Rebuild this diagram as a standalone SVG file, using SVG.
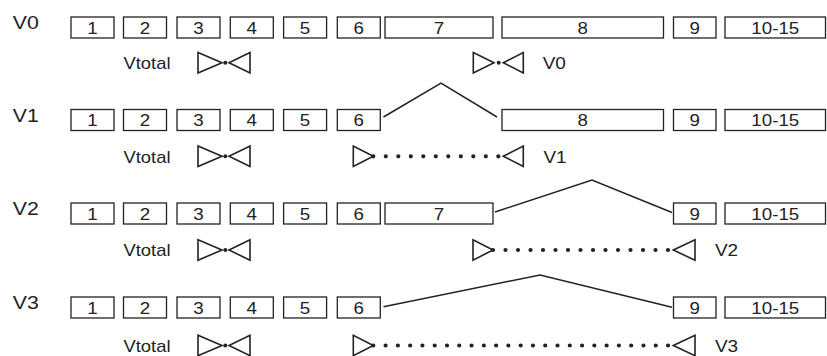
<svg xmlns="http://www.w3.org/2000/svg" width="827" height="356" viewBox="0 0 827 356">
<style>
  .bg { fill: #ffffff; }
  .box { fill: #ffffff; stroke: #222; stroke-width: 1.3; }
  text { font-family: "Liberation Sans", Arial, Helvetica, sans-serif; fill: #222; text-anchor: middle; transform-box: fill-box; transform-origin: center; transform: scaleX(1.15); }
  .num { font-size: 16.3px; }
  .row { font-size: 18.5px; }
  .lbl { font-size: 16px; }
  .tail { font-size: 16.5px; }
  .bridge { fill: none; stroke: #222; stroke-width: 1.5; stroke-linejoin: miter; }
  .tri { fill: none; stroke: #222; stroke-width: 1.6; stroke-linejoin: miter; }
  .dot { fill: #222; }
  .dots { stroke: #222; stroke-width: 4.2; stroke-linecap: round; stroke-dasharray: 0.01 12.49; fill: none; }
</style>
<rect class="bg" x="0" y="0" width="827" height="356"/>

<!-- Row V0 -->
<g id="row-v0">
  <text class="row" x="25.8" y="29.5">V0</text>
  <g id="v0-b1"><rect class="box" x="71" y="17" width="43" height="21"/><text class="num" x="92.5" y="33.6">1</text></g>
  <g id="v0-b2"><rect class="box" x="123.5" y="17" width="43" height="21"/><text class="num" x="145" y="33.6">2</text></g>
  <g id="v0-b3"><rect class="box" x="177" y="17" width="43" height="21"/><text class="num" x="198.5" y="33.6">3</text></g>
  <g id="v0-b4"><rect class="box" x="230.3" y="17" width="43" height="21"/><text class="num" x="251.8" y="33.6">4</text></g>
  <g id="v0-b5"><rect class="box" x="283.6" y="17" width="43" height="21"/><text class="num" x="305.1" y="33.6">5</text></g>
  <g id="v0-b6"><rect class="box" x="337.3" y="17" width="43" height="21"/><text class="num" x="358.8" y="33.6">6</text></g>
  <g id="v0-b7"><rect class="box" x="385" y="17" width="108" height="21"/><text class="num" x="439" y="33.6">7</text></g>
  <g id="v0-b8"><rect class="box" x="502" y="17" width="161.5" height="21"/><text class="num" x="582.8" y="33.6">8</text></g>
  <g id="v0-b9"><rect class="box" x="673.5" y="17" width="42.5" height="21"/><text class="num" x="694.8" y="33.6">9</text></g>
  <g id="v0-b10"><rect class="box" x="725" y="17" width="100.5" height="21"/><text class="num" x="775.3" y="33.6">10-15</text></g>
  <text class="lbl" x="147" y="69.3">Vtotal</text>
  <text class="tail" x="554.3" y="69.3">V0</text>
</g>

<!-- Row V1 -->
<g id="row-v1">
  <text class="row" x="25.8" y="122">V1</text>
  <g id="v1-b1"><rect class="box" x="71" y="109.5" width="43" height="21"/><text class="num" x="92.5" y="126.1">1</text></g>
  <g id="v1-b2"><rect class="box" x="123.5" y="109.5" width="43" height="21"/><text class="num" x="145" y="126.1">2</text></g>
  <g id="v1-b3"><rect class="box" x="177" y="109.5" width="43" height="21"/><text class="num" x="198.5" y="126.1">3</text></g>
  <g id="v1-b4"><rect class="box" x="230.3" y="109.5" width="43" height="21"/><text class="num" x="251.8" y="126.1">4</text></g>
  <g id="v1-b5"><rect class="box" x="283.6" y="109.5" width="43" height="21"/><text class="num" x="305.1" y="126.1">5</text></g>
  <g id="v1-b6"><rect class="box" x="337.3" y="109.5" width="43" height="21"/><text class="num" x="358.8" y="126.1">6</text></g>
  <g id="v1-b8"><rect class="box" x="502" y="109.5" width="161.5" height="21"/><text class="num" x="582.8" y="126.1">8</text></g>
  <g id="v1-b9"><rect class="box" x="673.5" y="109.5" width="42.5" height="21"/><text class="num" x="694.8" y="126.1">9</text></g>
  <g id="v1-b10"><rect class="box" x="725" y="109.5" width="100.5" height="21"/><text class="num" x="775.3" y="126.1">10-15</text></g>
  <text class="lbl" x="147" y="162.8">Vtotal</text>
  <text class="tail" x="555" y="162.8">V1</text>
</g>

<!-- Row V2 -->
<g id="row-v2">
  <text class="row" x="25.8" y="215.5">V2</text>
  <g id="v2-b1"><rect class="box" x="71" y="203" width="43" height="21"/><text class="num" x="92.5" y="219.6">1</text></g>
  <g id="v2-b2"><rect class="box" x="123.5" y="203" width="43" height="21"/><text class="num" x="145" y="219.6">2</text></g>
  <g id="v2-b3"><rect class="box" x="177" y="203" width="43" height="21"/><text class="num" x="198.5" y="219.6">3</text></g>
  <g id="v2-b4"><rect class="box" x="230.3" y="203" width="43" height="21"/><text class="num" x="251.8" y="219.6">4</text></g>
  <g id="v2-b5"><rect class="box" x="283.6" y="203" width="43" height="21"/><text class="num" x="305.1" y="219.6">5</text></g>
  <g id="v2-b6"><rect class="box" x="337.3" y="203" width="43" height="21"/><text class="num" x="358.8" y="219.6">6</text></g>
  <g id="v2-b7"><rect class="box" x="385" y="203" width="108" height="21"/><text class="num" x="439" y="219.6">7</text></g>
  <g id="v2-b9"><rect class="box" x="673.5" y="203" width="42.5" height="21"/><text class="num" x="694.8" y="219.6">9</text></g>
  <g id="v2-b10"><rect class="box" x="725" y="203" width="100.5" height="21"/><text class="num" x="775.3" y="219.6">10-15</text></g>
  <text class="lbl" x="147" y="256.5">Vtotal</text>
  <text class="tail" x="726.5" y="256.5">V2</text>
</g>

<!-- Row V3 -->
<g id="row-v3">
  <text class="row" x="25.8" y="309.5">V3</text>
  <g id="v3-b1"><rect class="box" x="71" y="297" width="43" height="21"/><text class="num" x="92.5" y="313.6">1</text></g>
  <g id="v3-b2"><rect class="box" x="123.5" y="297" width="43" height="21"/><text class="num" x="145" y="313.6">2</text></g>
  <g id="v3-b3"><rect class="box" x="177" y="297" width="43" height="21"/><text class="num" x="198.5" y="313.6">3</text></g>
  <g id="v3-b4"><rect class="box" x="230.3" y="297" width="43" height="21"/><text class="num" x="251.8" y="313.6">4</text></g>
  <g id="v3-b5"><rect class="box" x="283.6" y="297" width="43" height="21"/><text class="num" x="305.1" y="313.6">5</text></g>
  <g id="v3-b6"><rect class="box" x="337.3" y="297" width="43" height="21"/><text class="num" x="358.8" y="313.6">6</text></g>
  <g id="v3-b9"><rect class="box" x="673.5" y="297" width="42.5" height="21"/><text class="num" x="694.8" y="313.6">9</text></g>
  <g id="v3-b10"><rect class="box" x="725" y="297" width="100.5" height="21"/><text class="num" x="775.3" y="313.6">10-15</text></g>
  <text class="lbl" x="147" y="352">Vtotal</text>
  <text class="tail" x="726.5" y="352">V3</text>
</g>

<!-- Connectors -->
<g id="connectors">
  <polyline class="bridge" points="383.5,117 441,83 497,117"/>
  <polyline class="bridge" points="495,212 592,180 672,212.5"/>
  <polyline class="bridge" points="383.5,306.7 540,275 672,307.3"/>

  <!-- Vtotal bowties -->
  <g id="vtotal-0">
    <polygon class="tri" points="198,52.5 198,73 222,62.8"/>
    <circle class="dot" cx="225.3" cy="62.8" r="2"/>
    <polygon class="tri" points="229,62.8 250,52.5 250,73"/>
  </g>
  <g id="vtotal-1">
    <polygon class="tri" points="198,146 198,166.5 222,156.3"/>
    <circle class="dot" cx="225.3" cy="156.3" r="2"/>
    <polygon class="tri" points="229,156.3 250,146 250,166.5"/>
  </g>
  <g id="vtotal-2">
    <polygon class="tri" points="198,239.7 198,260.2 222,250"/>
    <circle class="dot" cx="225.3" cy="250" r="2"/>
    <polygon class="tri" points="229,250 250,239.7 250,260.2"/>
  </g>
  <g id="vtotal-3">
    <polygon class="tri" points="198,335.2 198,355.7 222,345.5"/>
    <circle class="dot" cx="225.3" cy="345.5" r="2"/>
    <polygon class="tri" points="229,345.5 250,335.2 250,355.7"/>
  </g>

  <!-- Version spans -->
  <g id="span-v0">
    <polygon class="tri" points="473.3,52.5 473.3,73 494,62.8"/>
    <circle class="dot" cx="498.7" cy="62.8" r="2"/>
    <polygon class="tri" points="503.3,62.8 523.3,52.5 523.3,73"/>
  </g>
  <g id="span-v1">
    <polygon class="tri" points="353.3,146 353.3,166.5 373.3,156.3"/>
    <polygon class="tri" points="503.3,156.3 523.3,146 523.3,166.5"/>
    <line class="dots" x1="373.3" y1="156.3" x2="498.3" y2="156.3"/>
  </g>
  <g id="span-v2">
    <polygon class="tri" points="473,239.7 473,260.2 493,250"/>
    <polygon class="tri" points="673.3,250 695,239.7 695,260.2"/>
    <line class="dots" x1="493" y1="250" x2="668.2" y2="250"/>
  </g>
  <g id="span-v3">
    <polygon class="tri" points="353.3,335.2 353.3,355.7 373.3,345.5"/>
    <polygon class="tri" points="673.3,345.5 695,335.2 695,355.7"/>
    <line class="dots" x1="373.3" y1="345.5" x2="668.2" y2="345.5" style="stroke-dasharray: 0.01 12.27"/>
  </g>
</g>
</svg>
